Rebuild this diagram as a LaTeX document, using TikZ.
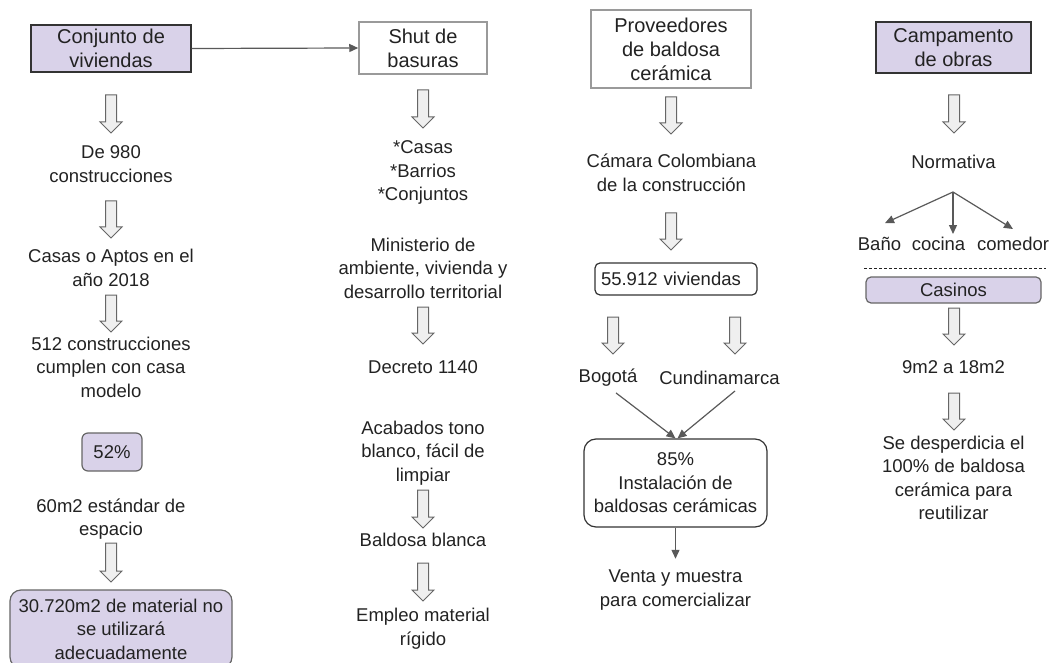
\documentclass[tikz,border=0pt]{standalone}
\usepackage{fontspec}
\setmainfont{Liberation Sans}
\usetikzlibrary{arrows.meta}

\definecolor{lav}{HTML}{D9D2E9}
\definecolor{ink}{HTML}{222222}
\definecolor{darkedge}{HTML}{333333}
\definecolor{midedge}{HTML}{666666}
\definecolor{lightedge}{HTML}{9A9A9A}
\definecolor{linegray}{HTML}{595959}
\definecolor{blkfill}{HTML}{EFEFEF}

% hollow block arrow pointing down: centre x, top y, shaft length
\newcommand\blkdown[3]{%
  \draw[blk] (#1,#2) ++(-5.5,0) -- ++(11,0) -- ++(0,#3) -- ++(5.5,0)
    -- ++(-11,11) -- ++(-11,-11) -- ++(5.5,0) -- cycle;}

\begin{document}
\begin{tikzpicture}[x=1pt,y=-1pt,
  txt/.style={font=\fontsize{18.5}{23.5}\selectfont, align=center, text=ink, inner sep=1pt},
  ttl/.style={font=\fontsize{20}{24}\selectfont, align=center, text=ink, inner sep=0pt},
  purplebox/.style={ttl, draw=darkedge, fill=lav, line width=1.3pt},
  plainbox/.style={ttl, draw=lightedge, fill=white, line width=1.5pt},
  roundlav/.style={txt, draw=midedge, fill=lav, line width=1.2pt, inner sep=0pt},
  roundwhite/.style={txt, draw=darkedge, fill=white, line width=1.2pt, inner sep=0pt},
  blk/.style={draw=midedge, fill=blkfill, line width=1pt, line join=miter},
  conn/.style={draw=linegray, line width=1.2pt, -{Triangle[length=9pt,width=8pt]}},
]
\useasboundingbox (0,0) rectangle (1052,663);

% ---------- column 1: Conjunto de viviendas ----------
\node[purplebox, minimum width=160pt, minimum height=47pt] (conj) at (111,48.5) {Conjunto de\\viviendas};
\blkdown{111}{95}{27}
\node[txt] (de980) at (111,164) {De 980\\construcciones};
\blkdown{111}{201}{26}
\node[txt] (casas) at (111,268) {Casas o Aptos en el\\año 2018};
\blkdown{111}{295}{26}
\node[txt] (c512) at (111,367) {512 construcciones\\cumplen con casa\\modelo};
\node[roundlav, rounded corners=6pt, minimum width=60pt, minimum height=38pt] (p52) at (112,452) {52\%};
\node[txt] (m60) at (111,519) {60m2 estándar de\\espacio};
\blkdown{111}{543}{28}
\node[roundlav, rounded corners=11pt, minimum width=222pt, minimum height=78pt] (m30) at (121,629)
  {30.720m2 de material no\\se utilizará\\adecuadamente};

% ---------- column 2: Shut de basuras ----------
\node[plainbox, minimum width=128pt, minimum height=52pt] (shut) at (423,48) {Shut de\\basuras};
\draw[conn] (conj.east) -- (shut.west);
\blkdown{423}{90}{27}
\node[txt] (tipos) at (423,172.5) {*Casas\\*Barrios\\*Conjuntos};
\node[txt] (minis) at (423,268) {Ministerio de\\ambiente, vivienda y\\desarrollo territorial};
\blkdown{423}{307}{26}
\node[txt] (decr) at (423,367) {Decreto 1140};
\node[txt] (acab) at (423,453) {Acabados tono\\blanco, fácil de\\limpiar};
\blkdown{423}{490}{27}
\node[txt] (bbla) at (423,540) {Baldosa blanca};
\blkdown{423}{563}{27}
\node[txt] (empl) at (423,628.5) {Empleo material\\rígido};

% ---------- column 3: Proveedores de baldosa cerámica ----------
\node[plainbox, minimum width=160pt, minimum height=78pt] (prov) at (671,49) {Proveedores\\de baldosa\\cerámica};
\blkdown{671}{97}{26}
\node[txt] (cama) at (671.5,173) {Cámara Colombiana\\de la construcción};
\blkdown{671}{213}{26}
\node[roundwhite, rounded corners=5pt, minimum width=162pt, minimum height=32pt,
      text width=150pt, align=left] (viv) at (676,279) {55.912 viviendas};
\blkdown{613}{317}{26}
\blkdown{735}{317}{26}
\node[txt] (bog) at (608,378) {Bogotá};
\node[txt] (cund) at (719.5,378) {Cundinamarca};
\node[roundwhite, rounded corners=12pt, minimum width=183pt, minimum height=88pt] (inst) at (675.5,483)
  {85\%\\Instalación de\\baldosas cerámicas};
\draw[conn] ([xshift=8pt,yshift=-5pt]bog.south) -- (inst.north);
\draw[conn] ([xshift=15.5pt,yshift=-5pt]cund.south) -- ([xshift=2pt]inst.north);
\node[txt] (venta) at (675.5,590) {Venta y muestra\\para comercializar};
\draw[conn] (inst.south) -- ([yshift=10pt]venta.north);

% ---------- column 4: Campamento de obras ----------
\node[purplebox, minimum width=155pt, minimum height=51pt] (camp) at (953.5,47.5) {Campamento\\de obras};
\blkdown{954}{95}{27}
\node[txt] (norm) at (953.5,162) {Normativa};
\coordinate (fork) at (953,192);
\node[txt] (bano) at (879.5,244) {Baño};
\node[txt] (coci) at (938.5,244) {cocina};
\node[txt] (come) at (1013,244) {comedor};
\draw[conn] (fork) -- ([xshift=5.5pt,yshift=13pt]bano.north);
\draw[conn] (fork) -- ([xshift=14.5pt,yshift=2pt]coci.north);
\draw[conn] (fork) -- ([yshift=7pt]come.north);
\draw[ink, line width=1pt, dash pattern=on 3pt off 2pt] (864,268) -- (1046,268);
\node[roundlav, rounded corners=5pt, minimum width=175pt, minimum height=26pt] (casi) at (953.5,290) {Casinos};
\blkdown{954}{308}{26}
\node[txt] (m9) at (953.5,367) {9m2 a 18m2};
\blkdown{954}{393}{26}
\node[txt] (desp) at (953.5,478) {Se desperdicia el\\100\% de baldosa\\cerámica para\\reutilizar};
\end{tikzpicture}
\end{document}
